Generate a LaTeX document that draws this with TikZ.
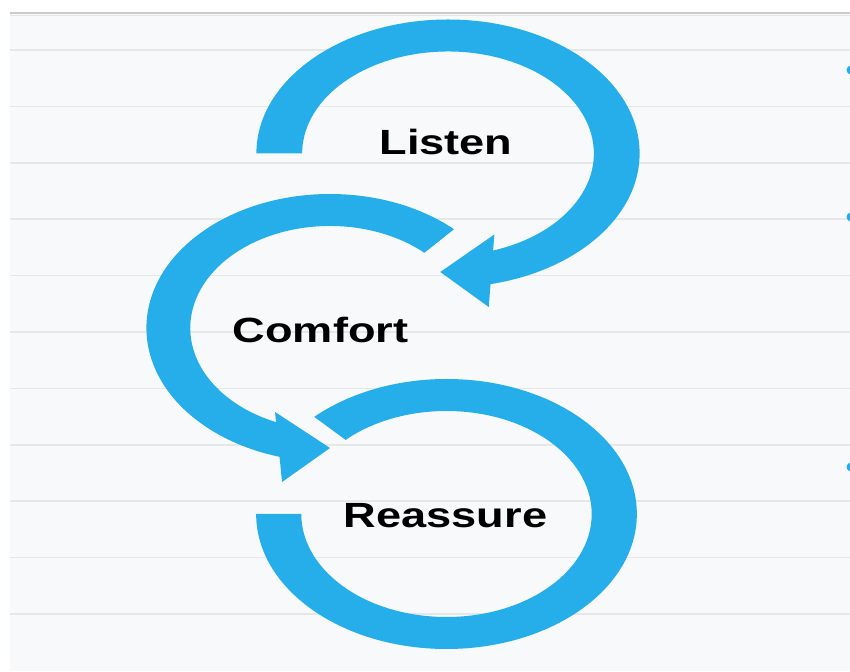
\documentclass[tikz,border=0pt]{standalone}
\usepackage{fontspec}
\setmainfont{Liberation Sans}
\definecolor{arrowblue}{HTML}{25AEEA}
\definecolor{bgpaper}{HTML}{F8F9FA}
\definecolor{ruleline}{HTML}{E5E7E9}
\definecolor{topshadow}{HTML}{C9CBCD}
\tikzset{
  ring/.style={fill=arrowblue},
  lbl/.style={font=\bfseries\fontsize{35}{35}\selectfont, inner sep=0pt, anchor=base, text=black},
  rulestroke/.style={draw=ruleline, line width=1.6pt},
  bulletdot/.style={fill=arrowblue}
}
\begin{document}
\begin{tikzpicture}[x=1pt,y=1pt]
\useasboundingbox (0,0) rectangle (850,671);
% page background
\fill[white] (0,0) rectangle (850,671);
\fill[bgpaper] (10,0) rectangle (850,658);
\draw[topshadow, line width=2.5pt] (10,658) -- (850,658);
\draw[topshadow!50, line width=1.5pt] (10,655.5) -- (850,655.5);
% ruled lines
\foreach \i in {0,...,10}
  \draw[rulestroke] (10,{621-56.4*\i}) -- (850,{621-56.4*\i});
% bullets at the right edge
\fill[bulletdot] (851,601) circle (4.5);
\fill[bulletdot] (851,454) circle (4.5);
\fill[bulletdot] (851,204) circle (4.5);

% Listen ring (clockwise, arrow at bottom)
\begin{scope}[shift={(448,517.5)}, xscale=1.43]
  \fill[ring] (180:134) arc[start angle=180, end angle=-79, radius=134]
    -- (-79:102) arc[start angle=-79, end angle=180, radius=102] -- cycle;
  \fill[ring] (-5.4,-118.5) -- (32.4,-81) -- (28.5,-153.5) -- cycle;
\end{scope}

% Comfort ring (counter-clockwise, arrow at bottom)
\begin{scope}[shift={(330,343)}, xscale=1.37]
  \fill[ring] (47.5:134) arc[start angle=47.5, end angle=256, radius=134]
    -- (256:102) arc[start angle=256, end angle=47.5, radius=102] -- cycle;
  \fill[ring] (0,-120) -- (-40.1,-84) -- (-35,-154) -- cycle;
\end{scope}

% Reassure ring (no arrowhead)
\begin{scope}[shift={(446.5,157)}, xscale=1.41]
  \fill[ring] (180:135) arc[start angle=180, end angle=494, radius=135]
    -- (494:103) arc[start angle=494, end angle=180, radius=103] -- cycle;
\end{scope}

% labels
\node[lbl] (listen) at (446,516) {\scalebox{1.29}[1]{Listen}};
\node[lbl] (comfort) at (320.5,328) {\scalebox{1.29}[1]{Comfort}};
\node[lbl] (reassure) at (445.5,143) {\scalebox{1.29}[1]{Reassure}};
\end{tikzpicture}
\end{document}
